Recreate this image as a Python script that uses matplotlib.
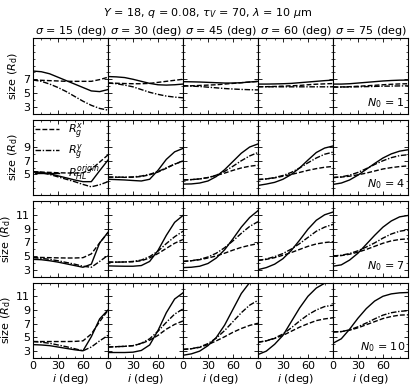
import numpy as np
import matplotlib as mpl
import matplotlib.pyplot as plt

mpl.rcParams['mathtext.fontset'] = 'dejavusans'
mpl.rcParams['font.size'] = 8

# inclinazioni (deg)
inc = [0, 10, 20, 30, 40, 50, 60, 70, 80, 90]
sigmas = [15, 30, 45, 60, 75]
n0_values = [1, 4, 7, 10]

# N0 = 1  (una lista per ogni sigma)
rgx_n1 = [[6.9, 6.85, 6.8, 6.75, 6.7, 6.7, 6.7, 6.7, 6.95, 7.3],
          [6.45, 6.42, 6.38, 6.35, 6.35, 6.4, 6.55, 6.7, 6.85, 7.0],
          [6.05, 6.05, 6.1, 6.15, 6.2, 6.3, 6.4, 6.5, 6.6, 6.68],
          [5.92, 5.92, 5.95, 6.0, 6.05, 6.1, 6.2, 6.28, 6.33, 6.38],
          [5.86, 5.88, 5.92, 5.98, 6.05, 6.12, 6.2, 6.27, 6.32, 6.35]]
rgy_n1 = [[6.9, 6.7, 6.3, 5.8, 5.2, 4.5, 3.8, 3.2, 2.75, 2.5],
          [6.45, 6.35, 6.15, 5.9, 5.5, 5.1, 4.8, 4.55, 4.4, 4.3],
          [6.05, 6.0, 5.95, 5.85, 5.75, 5.65, 5.58, 5.52, 5.48, 5.45],
          [5.92, 5.91, 5.9, 5.9, 5.9, 5.9, 5.9, 5.9, 5.9, 5.9],
          [5.86, 5.87, 5.88, 5.9, 5.93, 5.96, 5.99, 6.01, 6.03, 6.04]]
rhl_n1 = [[8.2, 8.1, 7.8, 7.3, 6.8, 6.3, 5.8, 5.3, 5.2, 5.5],
          [7.4, 7.35, 7.25, 7.0, 6.7, 6.4, 6.2, 6.15, 6.2, 6.3],
          [6.65, 6.63, 6.6, 6.55, 6.5, 6.45, 6.45, 6.5, 6.6, 6.7],
          [6.3, 6.3, 6.32, 6.35, 6.4, 6.5, 6.6, 6.7, 6.8, 6.88],
          [6.3, 6.3, 6.35, 6.45, 6.55, 6.65, 6.75, 6.82, 6.87, 6.88]]

# N0 = 4
rgx_n4 = [[5.4, 5.35, 5.3, 5.25, 5.22, 5.2, 5.25, 5.75, 6.8, 7.85],
          [4.6, 4.6, 4.58, 4.6, 4.7, 4.95, 5.35, 5.9, 6.5, 6.95],
          [4.2, 4.25, 4.35, 4.55, 4.85, 5.2, 5.6, 5.95, 6.2, 6.35],
          [4.25, 4.35, 4.5, 4.75, 5.0, 5.3, 5.6, 5.85, 6.05, 6.17],
          [4.55, 4.62, 4.75, 4.95, 5.2, 5.5, 5.8, 6.0, 6.15, 6.25]]
rgy_n4 = [[5.4, 5.25, 5.0, 4.65, 4.3, 3.95, 3.55, 3.2, 3.5, 3.95],
          [4.62, 4.62, 4.6, 4.64, 4.77, 5.02, 5.42, 5.97, 6.52, 6.97],
          [4.2, 4.25, 4.35, 4.55, 4.9, 5.45, 6.2, 7.0, 7.7, 8.2],
          [4.25, 4.35, 4.55, 4.85, 5.3, 5.95, 6.7, 7.4, 7.95, 8.25],
          [4.55, 4.65, 4.9, 5.3, 5.85, 6.45, 7.0, 7.45, 7.75, 7.88]]
rhl_n4 = [[5.4, 5.3, 5.1, 4.8, 4.5, 4.2, 3.95, 3.95, 5.55, 7.1],
          [4.3, 4.25, 4.2, 4.12, 4.05, 4.3, 5.6, 7.2, 8.3, 8.8],
          [3.6, 3.62, 3.75, 4.05, 4.7, 5.7, 6.9, 8.1, 9.0, 9.45],
          [3.4, 3.6, 3.85, 4.3, 5.0, 5.95, 7.1, 8.2, 8.85, 9.15],
          [3.55, 3.75, 4.2, 4.9, 5.75, 6.6, 7.4, 8.0, 8.4, 8.6]]

# N0 = 7
rgx_n7 = [[4.8, 4.78, 4.75, 4.72, 4.7, 4.7, 4.75, 5.3, 6.9, 8.4],
          [4.1, 4.1, 4.12, 4.15, 4.3, 4.7, 5.35, 6.1, 6.85, 7.4],
          [4.2, 4.3, 4.45, 4.7, 5.0, 5.4, 5.85, 6.25, 6.55, 6.8],
          [4.35, 4.5, 4.75, 5.1, 5.5, 5.95, 6.4, 6.75, 6.95, 7.08],
          [5.0, 5.05, 5.25, 5.55, 5.95, 6.4, 6.85, 7.2, 7.4, 7.5]]
rgy_n7 = [[4.75, 4.65, 4.5, 4.3, 4.05, 3.8, 3.5, 3.35, 4.2, 5.1],
          [4.1, 4.1, 4.12, 4.2, 4.4, 4.9, 5.7, 6.8, 7.8, 8.6],
          [4.2, 4.3, 4.5, 4.85, 5.4, 6.2, 7.2, 8.3, 9.3, 10.0],
          [4.35, 4.55, 4.9, 5.35, 6.0, 6.8, 7.7, 8.6, 9.2, 9.6],
          [5.0, 5.1, 5.35, 5.75, 6.3, 6.9, 7.6, 8.2, 8.6, 8.8]]
rhl_n7 = [[4.5, 4.45, 4.3, 4.1, 3.85, 3.6, 3.35, 3.8, 6.9, 8.45],
          [3.55, 3.52, 3.5, 3.5, 3.6, 4.2, 5.8, 8.0, 9.9, 10.9],
          [3.3, 3.35, 3.5, 3.9, 4.7, 5.9, 7.5, 9.2, 10.6, 11.6],
          [3.0, 3.3, 3.8, 4.6, 5.8, 7.3, 8.9, 10.2, 11.0, 11.4],
          [3.5, 3.7, 4.4, 5.4, 6.7, 8.0, 9.2, 10.1, 10.7, 10.9]]

# N0 = 10
rgx_n10 = [[4.4, 4.4, 4.4, 4.4, 4.4, 4.42, 4.5, 5.5, 7.3, 8.95],
           [3.6, 3.65, 3.7, 3.8, 4.1, 4.6, 5.3, 6.2, 6.9, 7.4],
           [3.25, 3.35, 3.55, 3.95, 4.5, 5.1, 5.75, 6.3, 6.75, 7.07],
           [4.3, 4.5, 4.85, 5.3, 5.9, 6.5, 7.0, 7.45, 7.7, 7.86],
           [5.8, 5.85, 6.05, 6.4, 6.85, 7.3, 7.75, 8.05, 8.25, 8.3]]
rgy_n10 = [[4.4, 4.3, 4.15, 3.9, 3.65, 3.35, 3.05, 3.6, 4.5, 5.3],
           [3.6, 3.65, 3.7, 3.8, 4.15, 4.8, 5.9, 7.2, 8.4, 9.15],
           [3.25, 3.35, 3.6, 4.1, 4.9, 6.0, 7.3, 8.6, 9.7, 10.4],
           [4.3, 4.5, 4.9, 5.5, 6.4, 7.4, 8.3, 9.0, 9.5, 9.7],
           [5.8, 5.85, 6.1, 6.55, 7.1, 7.7, 8.25, 8.6, 8.8, 8.9]]
rhl_n10 = [[3.95, 3.9, 3.8, 3.6, 3.4, 3.2, 3.05, 5.1, 7.7, 9.0],
           [2.8, 2.8, 2.8, 2.85, 3.1, 3.9, 6.0, 8.6, 10.6, 11.5],
           [2.4, 2.6, 3.0, 3.8, 5.0, 6.8, 9.1, 11.4, 13.0, 13.4],
           [2.5, 3.0, 4.0, 5.3, 7.3, 9.3, 11.0, 12.2, 12.9, 13.1],
           [4.15, 4.8, 6.2, 7.8, 9.2, 10.3, 11.0, 11.35, 11.5, 11.55]]

rgx_all = [rgx_n1, rgx_n4, rgx_n7, rgx_n10]
rgy_all = [rgy_n1, rgy_n4, rgy_n7, rgy_n10]
rhl_all = [rhl_n1, rhl_n4, rhl_n7, rhl_n10]

# limiti e tick per riga
ylims = [(2.38, 8.24), (3.15, 9.5), (2.75, 11.85), (2.3, 12.9)]
yticks = [[3, 5, 7], [5, 7, 9], [3, 5, 7, 9, 11], [3, 5, 7, 9, 11]]

fig, axes = plt.subplots(4, 5, figsize=(4.15, 3.89), dpi=100, sharex=True)
fig.subplots_adjust(left=0.0795, right=0.983, top=0.902, bottom=0.0797,
                    hspace=0.08, wspace=0)

for r in range(4):
    for c in range(5):
        ax = axes[r, c]
        ax.plot(inc, rgx_all[r][c], color='k', ls=(0, (3.5, 1.5)), lw=1.0, label=r'$R_g^x$')
        ax.plot(inc, rgy_all[r][c], color='k', ls=(0, (4, 1.2, 1, 1.2)), lw=1.0, label=r'$R_g^y$')
        ax.plot(inc, rhl_all[r][c], color='k', ls='-', lw=1.0, label=r'$R_{HL}^{origin}$')

        ax.set_xlim(0, 90)
        ax.set_ylim(*ylims[r])
        ax.set_xticks([0, 30, 60, 90])
        ax.set_xticks(np.arange(0, 91, 10), minor=True)
        ax.set_yticks(yticks[r])
        ax.set_yticks(np.arange(2, 14, 1), minor=True)
        ax.tick_params(which='both', direction='in', top=True, right=True, labelsize=8, pad=2)
        ax.tick_params(which='major', length=3, width=0.6)
        ax.tick_params(which='minor', length=1.5, width=0.5)
        for sp in ax.spines.values():
            sp.set_linewidth(0.8)

        if c > 0:
            ax.tick_params(labelleft=False)
        else:
            ax.set_ylabel(r'size ($R_{\rm d}$)', fontsize=8, labelpad=2)
        if r == 3:
            if c < 4:
                ax.set_xticklabels(['0', '30', '60', ''])
            ax.set_xlabel(r'$i$ (deg)', fontsize=8, labelpad=1)
        if r == 0:
            ax.set_title(rf'$\sigma$ = {sigmas[c]} (deg)', fontsize=8, pad=2)
        if c == 4:
            ax.text(0.96, 0.05, rf'$N_0$ = {n0_values[r]}', transform=ax.transAxes,
                    ha='right', va='bottom', fontsize=8)

axes[1, 0].legend(loc='upper left', frameon=False, fontsize=8, handlelength=2.2,
                  handletextpad=0.8, borderaxespad=0.0, borderpad=0.15,
                  labelspacing=0.1)

fig.suptitle(r'$Y$ = 18, $q$ = 0.08, $\tau_V$ = 70, $\lambda$ = 10 $\mu$m',
             fontsize=8, y=0.985)

plt.savefig('out.png', dpi=100)
